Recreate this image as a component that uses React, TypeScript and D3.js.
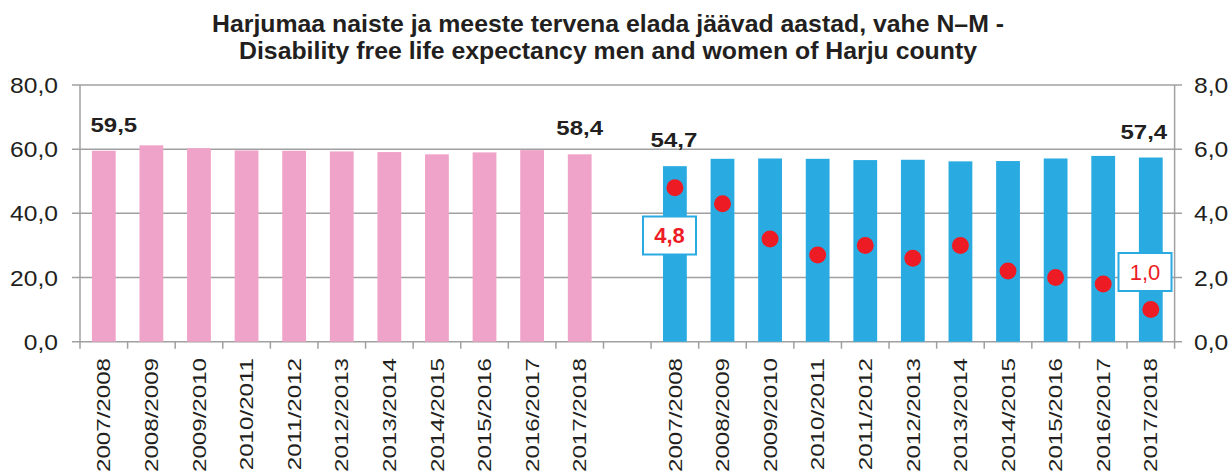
import React from 'react';
import * as d3 from 'd3';

const categories = ['2007/2008', '2008/2009', '2009/2010', '2010/2011', '2011/2012', '2012/2013', '2013/2014', '2014/2015', '2015/2016', '2016/2017', '2017/2018'];
const women = [59.5, 61.2, 60.3, 59.6, 59.5, 59.3, 59.1, 58.4, 59.0, 59.7, 58.4];
const men = [54.7, 57.0, 57.1, 57.0, 56.6, 56.7, 56.2, 56.3, 57.1, 57.9, 57.4];
const gap = [4.8, 4.3, 3.2, 2.7, 3.0, 2.6, 3.0, 2.2, 2.0, 1.8, 1.0];
const leftTicks = [0, 20, 40, 60, 80];
const rightTicks = [0, 2, 4, 6, 8];
const titleLines = ['Harjumaa naiste ja meeste tervena elada jäävad aastad, vahe N–M -', 'Disability free life expectancy men and women of Harju county'];

const W = 1232, H = 474;
const X0 = 80, X1 = 1174.6, Y0 = 341.7, Y1 = 85;
const PINK = '#f0a3c8', BLUE = '#29abe2', RED = '#ed1c24', GRID = '#a0a0a0', TXT = '#231f20';
const FONT = '"Liberation Sans", Arial, Helvetica, sans-serif';

const fmt = (v: number, d = 1) => v.toFixed(d).replace('.', ',');

export default function App() {
  const keys = [...categories.map(c => 'N' + c), 'gap', ...categories.map(c => 'M' + c)];
  const x = d3.scaleBand<string>().domain(keys).range([X0, X1]).paddingInner(0.5).paddingOuter(0.25);
  const y = d3.scaleLinear().domain([0, 80]).range([Y0, Y1]);
  const y2 = d3.scaleLinear().domain([0, 8]).range([Y0, Y1]);
  const step = x.step();
  const bw = x.bandwidth();
  const cx = (k: string) => (x(k) as number) + bw / 2;

  const boundaries = d3.range(keys.length + 1).map(i => X0 + i * step);

  const valueLabels = [
    { k: 'N' + categories[0], v: women[0], dx: 10 },
    { k: 'N' + categories[10], v: women[10], dx: 0 },
    { k: 'M' + categories[0], v: men[0], dx: -1 },
    { k: 'M' + categories[10], v: men[10], dx: -7 },
  ];

  return (
    <svg width={W} height={H} style={{ position: 'absolute', left: 0, top: 0, background: '#fff' }} fontFamily={FONT}>
      <rect width={W} height={H} fill="#fff" />
      {titleLines.map((t, i) => (
        <text key={i} transform={`translate(608,${31.5 + i * 27.8}) scale(1.08,1)`} textAnchor="middle" fontWeight="bold" fontSize={23} fill={TXT}>{t}</text>
      ))}
      {/* grid lines */}
      {leftTicks.map(t => (
        <line key={t} x1={72} x2={1182} y1={y(t)} y2={y(t)} stroke={GRID} strokeWidth={1.5} />
      ))}
      {/* axes */}
      <line x1={X0} x2={X0} y1={Y1} y2={Y0} stroke={GRID} strokeWidth={1.5} />
      <line x1={X1} x2={X1} y1={Y1} y2={Y0} stroke={GRID} strokeWidth={1.5} />
      {boundaries.map((b, i) => (
        <line key={i} x1={b} x2={b} y1={Y0} y2={Y0 + 7} stroke={GRID} strokeWidth={1.5} />
      ))}
      {/* left tick labels */}
      {leftTicks.map(t => (
        <text key={t} transform={`translate(58,${y(t) + 8}) scale(1.12,1)`} textAnchor="end" fontSize={22} fill={TXT}>{fmt(t)}</text>
      ))}
      {rightTicks.map(t => (
        <text key={t} transform={`translate(1194,${y2(t) + 8}) scale(1.12,1)`} textAnchor="start" fontSize={22} fill={TXT}>{fmt(t)}</text>
      ))}
      {/* bars */}
      {categories.map((c, i) => (
        <rect key={'w' + c} x={x('N' + c)} y={y(women[i])} width={bw} height={Y0 - y(women[i])} fill={PINK} />
      ))}
      {categories.map((c, i) => (
        <rect key={'m' + c} x={x('M' + c)} y={y(men[i])} width={bw} height={Y0 - y(men[i])} fill={BLUE} />
      ))}
      {/* value labels */}
      {valueLabels.map((l, i) => (
        <text key={i} transform={`translate(${cx(l.k) + l.dx},${y(l.v) - 19}) scale(1.2,1)`} textAnchor="middle" fontWeight="bold" fontSize={20} fill={TXT}>{fmt(l.v)}</text>
      ))}
      {/* gap dots */}
      {categories.map((c, i) => (
        <circle key={'g' + c} cx={cx('M' + c)} cy={y2(gap[i])} r={8.5} fill={RED} />
      ))}
      {/* gap boxes */}
      <g>
        <rect x={643} y={216.5} width={53} height={38} fill="#fff" stroke={BLUE} strokeWidth={2} />
        <text x={669.5} y={243} textAnchor="middle" fontWeight="bold" fontSize={22} fill={RED}>{fmt(gap[0])}</text>
      </g>
      <g>
        <rect x={1118.5} y={253} width={53} height={38} fill="#fff" stroke={BLUE} strokeWidth={2} />
        <text x={1145} y={280} textAnchor="middle" fontSize={22} fill={RED}>{fmt(gap[10])}</text>
      </g>
      {/* x labels */}
      {categories.map(c => ['N', 'M'].map(p => (
        <text key={p + c} transform={`translate(${cx(p + c)},358) rotate(-90) scale(1.27,1)`} dy="0.35em" textAnchor="end" fontSize={19} fill={TXT}>{c}</text>
      )))}
    </svg>
  );
}
